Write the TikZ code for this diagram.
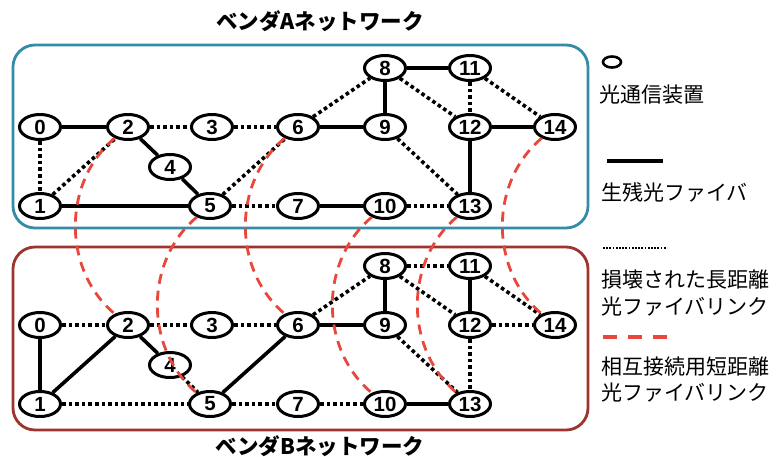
\documentclass[tikz,border=0pt]{standalone}
\usepackage{fontspec}
\setmainfont{Liberation Sans}
\newfontfamily\jp{Noto Sans CJK JP}
\usetikzlibrary{shapes.geometric}
\definecolor{boxblue}{RGB}{52,140,168}
\definecolor{boxred}{RGB}{158,52,46}
\definecolor{linkred}{RGB}{232,72,60}
\tikzset{
  dev/.style={ellipse, draw, line width=3pt, fill=white, minimum width=41pt, minimum height=25pt, inner sep=0pt, font=\bfseries\fontsize{20.5}{20.5}\selectfont},
  live/.style={line width=3.6pt},
  broken/.style={line width=3.6pt, dash pattern=on 3.6pt off 3pt},
  xlink/.style={linkred, line width=2.8pt, dash pattern=on 10pt off 7pt, bend right=50},
  jptitle/.style={font=\jp\bfseries\fontsize{21.5}{21.5}\selectfont, inner sep=0pt},
  jplegend/.style={font=\jp\fontsize{21}{21}\selectfont, inner sep=0pt, anchor=west},
}
\begin{document}
\begin{tikzpicture}[x=1pt,y=-1pt]
\useasboundingbox[fill=white] (0,0) rectangle (779,456);
% boxes
\draw[boxblue, line width=2.8pt, rounded corners=22pt] (13,45) rectangle (588,228);
\draw[boxred, line width=2.8pt, rounded corners=22pt] (13,247) rectangle (588,430);
% titles
\node[jptitle] (titleA) at (320,21) {ベンダAネットワーク};
\node[jptitle] (titleB) at (320,446) {ベンダBネットワーク};
% vendor A nodes
\node[dev] (a0) at (40,127) {0};
\node[dev] (a1) at (40,206) {1};
\node[dev] (a2) at (128,127) {2};
\node[dev] (a3) at (212,127) {3};
\node[dev] (a4) at (170,167) {4};
\node[dev] (a5) at (210,206) {5};
\node[dev] (a6) at (298,127) {6};
\node[dev] (a7) at (298,206) {7};
\node[dev] (a8) at (385,68) {8};
\node[dev] (a9) at (385,127) {9};
\node[dev] (a10) at (385,206) {10};
\node[dev] (a11) at (470,68) {11};
\node[dev] (a12) at (470,127) {12};
\node[dev] (a13) at (470,206) {13};
\node[dev] (a14) at (555,127) {14};
% vendor B nodes
\node[dev] (b0) at (40,325) {0};
\node[dev] (b1) at (40,404) {1};
\node[dev] (b2) at (128,325) {2};
\node[dev] (b3) at (212,325) {3};
\node[dev] (b4) at (170,365) {4};
\node[dev] (b5) at (210,404) {5};
\node[dev] (b6) at (298,325) {6};
\node[dev] (b7) at (298,404) {7};
\node[dev] (b8) at (385,266) {8};
\node[dev] (b9) at (385,325) {9};
\node[dev] (b10) at (385,404) {10};
\node[dev] (b11) at (470,266) {11};
\node[dev] (b12) at (470,325) {12};
\node[dev] (b13) at (470,404) {13};
\node[dev] (b14) at (555,325) {14};
% vendor A links
\draw[live] (a0) -- (a2);
\draw[live] (a2) -- (a4);
\draw[live] (a4) -- (a5);
\draw[live] (a1) -- (a5);
\draw[live] (a6) -- (a9);
\draw[live] (a8) -- (a9);
\draw[live] (a8) -- (a11);
\draw[live] (a12) -- (a14);
\draw[live] (a12) -- (a13);
\draw[live] (a7) -- (a10);
\draw[broken] (a0) -- (a1);
\draw[broken] (a1) -- (a2);
\draw[broken] (a2) -- (a3);
\draw[broken] (a3) -- (a6);
\draw[broken] (a5) -- (a6);
\draw[broken] (a5) -- (a7);
\draw[broken] (a6) -- (a8);
\draw[broken] (a8) -- (a12);
\draw[broken] (a11) -- (a12);
\draw[broken] (a11) -- (a14);
\draw[broken] (a9) -- (a13);
\draw[broken] (a10) -- (a13);
% vendor B links
\draw[live] (b0) -- (b1);
\draw[live] (b1) -- (b2);
\draw[live] (b2) -- (b4);
\draw[live] (b5) -- (b6);
\draw[live] (b6) -- (b9);
\draw[live] (b8) -- (b9);
\draw[live] (b11) -- (b12);
\draw[live] (b10) -- (b13);
\draw[broken] (b0) -- (b2);
\draw[broken] (b2) -- (b3);
\draw[broken] (b3) -- (b6);
\draw[broken] (b4) -- (b5);
\draw[broken] (b1) -- (b5);
\draw[broken] (b5) -- (b7);
\draw[broken] (b7) -- (b10);
\draw[broken] (b6) -- (b8);
\draw[broken] (b8) -- (b11);
\draw[broken] (b8) -- (b12);
\draw[broken] (b11) -- (b14);
\draw[broken] (b12) -- (b14);
\draw[broken] (b12) -- (b13);
\draw[broken] (b9) -- (b13);
% interconnection links
\draw[xlink] (a2) to (b2);
\draw[xlink] (a5) to (b5);
\draw[xlink] (a6) to (b6);
\draw[xlink] (a10) to (b10);
\draw[xlink] (a13) to (b13);
\draw[xlink] (a14) to (b14);
% legend
\node[ellipse, draw, line width=2.6pt, minimum width=18pt, minimum height=11pt, inner sep=0pt] (legdev) at (612,62) {};
\node[jplegend] (legdevt) at (599,95) {光通信装置};
\coordinate (ls1) at (607,161); \coordinate (ls2) at (663,161);
\draw[line width=3.4pt] (ls1) -- (ls2);
\node[jplegend] (legsolt) at (601,192) {生残光ファイバ};
\coordinate (ld1) at (603,248); \coordinate (ld2) at (667,248);
\draw[line width=1.8pt, dash pattern=on 1.8pt off 1.4pt] (ld1) -- (ld2);
\node[jplegend] (legdott1) at (601,280) {損壊された長距離};
\node[jplegend] (legdott2) at (601,307) {光ファイバリンク};
\coordinate (lr1) at (603,337); \coordinate (lr2) at (667,337);
\draw[linkred, line width=3.2pt, dash pattern=on 14pt off 11pt] (lr1) -- (lr2);
\node[jplegend] (legredt1) at (601,367) {相互接続用短距離};
\node[jplegend] (legredt2) at (601,393) {光ファイバリンク};
\end{tikzpicture}
\end{document}
